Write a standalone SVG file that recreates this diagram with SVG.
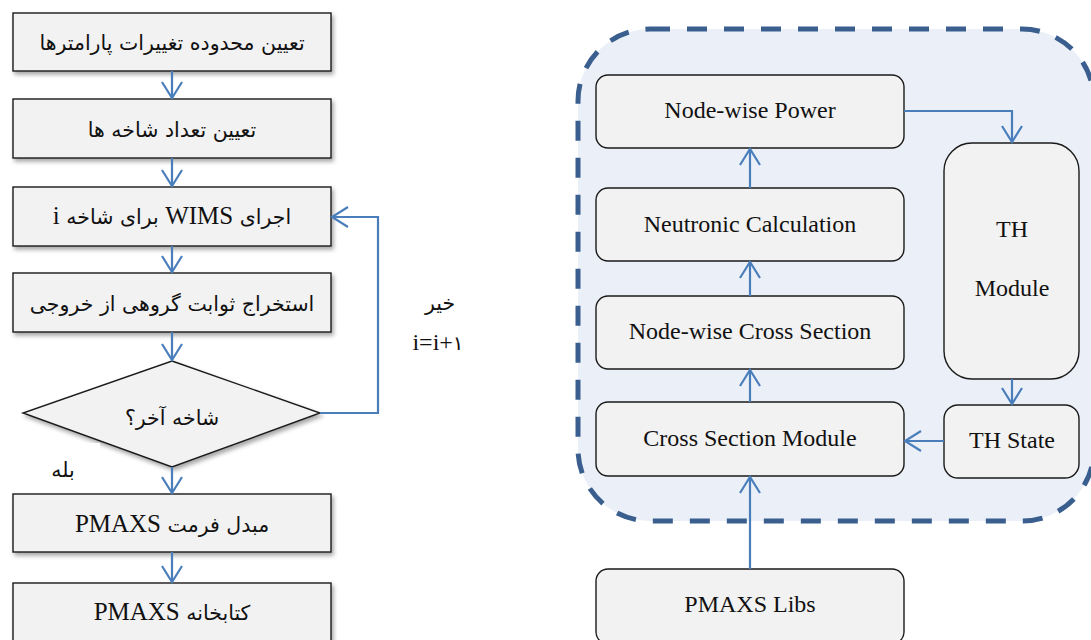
<svg xmlns="http://www.w3.org/2000/svg" width="1091" height="640" viewBox="0 0 1091 640">
  <defs>
    <filter id="shadow" x="-10%" y="-20%" width="120%" height="150%">
      <feDropShadow dx="2" dy="3" stdDeviation="2.2" flood-color="#000" flood-opacity="0.35"/>
    </filter>
    <marker id="head" viewBox="-18 -11 20 22" markerWidth="20" markerHeight="22" refX="0" refY="0" orient="auto" markerUnits="userSpaceOnUse">
      <path d="M -16 -10 L 0 0 L -16 10" fill="none" stroke="#4a7ebb" stroke-width="2.2"/>
    </marker>
    <style>
      .step { fill: #f2f2f2; stroke: #1a1a1a; stroke-width: 1.4; }
      .blk { fill: #f2f2f2; stroke: #1a1a1a; stroke-width: 1.4; }
      .fa { font-family: "DejaVu Sans", sans-serif; font-size: 20.5px; fill: #111; text-anchor: middle; }
      .en { font-family: "Liberation Serif", "Times New Roman", serif; font-size: 24px; fill: #111; text-anchor: middle; }
      .lat { font-family: "Liberation Serif", "Times New Roman", serif; font-size: 25px; }
      .link { fill: none; stroke: #4a7ebb; stroke-width: 2.2; marker-end: url(#head); }
    </style>
  </defs>

  <!-- coupling region -->
  <g id="coupling-region">
    <rect x="578" y="29" width="516" height="492" rx="72" ry="72" fill="#ebf0f8" stroke="#3a5f8f" stroke-width="5" stroke-dasharray="20 17"/>
  </g>

  <!-- left flowchart -->
  <g id="step-range">
    <rect class="step" x="13" y="13" width="318" height="58" filter="url(#shadow)"/>
    <text class="fa" x="172" y="50" direction="rtl">تعیین محدوده تغییرات پارامترها</text>
  </g>
  <g id="step-branches">
    <rect class="step" x="13" y="99" width="318" height="59" filter="url(#shadow)"/>
    <text class="fa" x="172" y="137" direction="rtl">تعیین تعداد شاخه ها</text>
  </g>
  <g id="step-wims">
    <rect class="step" x="13" y="187" width="318" height="59" filter="url(#shadow)"/>
    <text class="fa" x="172" y="224" direction="rtl">اجرای <tspan class="lat" font-family="Liberation Serif, serif">WIMS</tspan> برای شاخه <tspan class="lat" font-family="Liberation Serif, serif">i</tspan></text>
  </g>
  <g id="step-extract">
    <rect class="step" x="13" y="273" width="318" height="59" filter="url(#shadow)"/>
    <text class="fa" x="172" y="311" direction="rtl">استخراج ثوابت گروهی از خروجی</text>
  </g>
  <g id="decision-last">
    <polygon class="step" points="172,361 320,413 172,467 23,413" filter="url(#shadow)"/>
    <text class="fa" x="172" y="425" direction="rtl">شاخه آخر؟</text>
  </g>
  <g id="label-yes">
    <rect x="23" y="443" width="77" height="49" fill="#ffffff"/>
    <text class="fa" x="63" y="477" direction="rtl">بله</text>
  </g>
  <g id="step-convert">
    <rect class="step" x="13" y="494" width="318" height="58" filter="url(#shadow)"/>
    <text class="fa" x="172" y="532" direction="rtl">مبدل فرمت <tspan class="lat" font-family="Liberation Serif, serif">PMAXS</tspan></text>
  </g>
  <g id="step-library">
    <rect class="step" x="13" y="583" width="318" height="60" filter="url(#shadow)"/>
    <text class="fa" x="172" y="620" direction="rtl">کتابخانه <tspan class="lat" font-family="Liberation Serif, serif">PMAXS</tspan></text>
  </g>
  <g id="label-no">
    <text class="fa" x="440" y="310" direction="rtl" font-size="21">خیر</text>
    <text class="en" x="438" y="350">i=i+<tspan font-family="DejaVu Sans, sans-serif" font-size="20">۱</tspan></text>
  </g>

  <!-- right block diagram -->
  <g id="node-power">
    <rect class="blk" x="596" y="75" width="308" height="73" rx="12"/>
    <text class="en" x="750" y="118">Node-wise Power</text>
  </g>
  <g id="neutronic">
    <rect class="blk" x="596" y="188" width="308" height="73" rx="12"/>
    <text class="en" x="750" y="232">Neutronic Calculation</text>
  </g>
  <g id="node-xs">
    <rect class="blk" x="596" y="296" width="308" height="73" rx="12"/>
    <text class="en" x="750" y="339">Node-wise Cross Section</text>
  </g>
  <g id="xs-module">
    <rect class="blk" x="596" y="402" width="308" height="74" rx="12"/>
    <text class="en" x="750" y="446">Cross Section Module</text>
  </g>
  <g id="pmaxs-libs">
    <rect class="blk" x="596" y="569" width="308" height="75" rx="12"/>
    <text class="en" x="750" y="612">PMAXS Libs</text>
  </g>
  <g id="th-module">
    <rect class="blk" x="944" y="143" width="135" height="236" rx="28"/>
    <text class="en" x="1012" y="237">TH</text>
    <text class="en" x="1012" y="296">Module</text>
  </g>
  <g id="th-state">
    <rect class="blk" x="944" y="405" width="135" height="73" rx="14"/>
    <text class="en" x="1012" y="448">TH State</text>
  </g>

  <!-- connectors -->
  <g id="connectors">
    <path class="link" d="M172 71 V98"/>
    <path class="link" d="M172 158 V186"/>
    <path class="link" d="M172 246 V272"/>
    <path class="link" d="M172 332 V360"/>
    <path class="link" d="M172 467 V493"/>
    <path class="link" d="M172 552 V582"/>
    <path class="link" d="M320 413 H378 V217 H332"/>

    <path class="link" d="M904 111 H1012 V142"/>
    <path class="link" d="M750 188 V149"/>
    <path class="link" d="M750 296 V262"/>
    <path class="link" d="M750 402 V370"/>
    <path class="link" d="M750 569 V477"/>
    <path class="link" d="M1012 379 V404"/>
    <path class="link" d="M944 441 H905"/>
  </g>
</svg>
